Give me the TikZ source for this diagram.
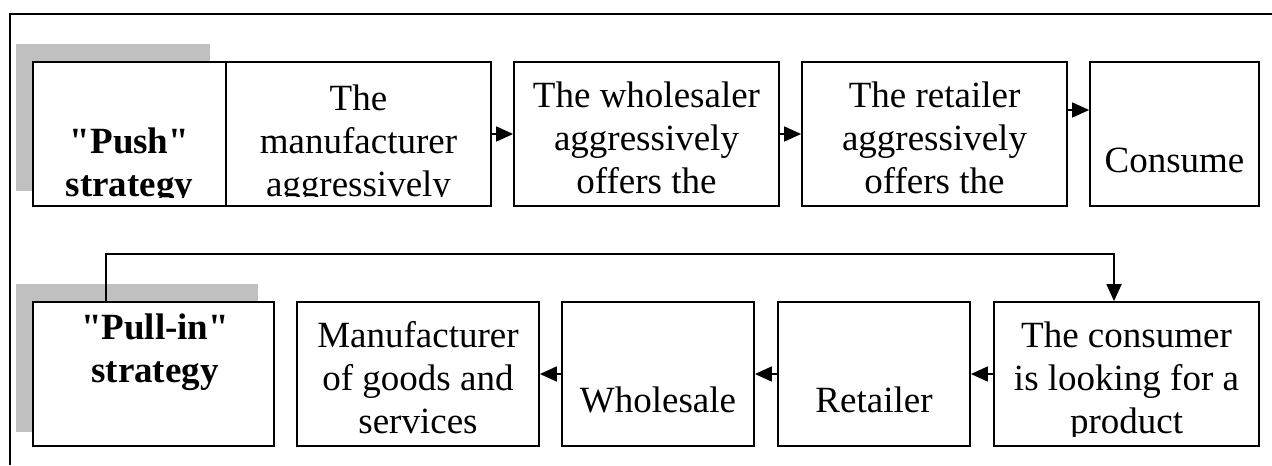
\documentclass[tikz,border=0pt]{standalone}
\usepackage{fontspec}
\setmainfont{Liberation Serif}[Ligatures=TeXOff]
\usetikzlibrary{arrows.meta,fit}
\definecolor{shadowc}{HTML}{C0C0C0}
\begin{document}
\begin{tikzpicture}[x=0.5pt,y=-0.5pt,
  box/.style={draw,line width=0.9pt,fill=white,inner sep=0pt},
  txt/.style={anchor=base,align=center,inner sep=0pt,font=\fontsize{18.5}{21.5}\selectfont},
  btxt/.style={txt,font=\fontsize{18.5}{21.5}\selectfont\bfseries},
  arr/.style={line width=0.9pt,-{Triangle[length=8.5pt,width=7.5pt]}},
  frame/.style={line width=1.1pt}
]
\useasboundingbox (0,0) rectangle (1272,465);
% outer frame
\coordinate (f1) at (10,465);
\coordinate (f2) at (10,14);
\coordinate (f3) at (1272,14);
\draw[frame] (f1) -- (f2) -- (f3);

% shadows
\fill[shadowc] (16,44) rectangle (210,191);
\fill[shadowc] (16,284) rectangle (258,432);

% top row boxes
\node[box,fit={(33,62) (226,206)}] (push) {};
\node[box,fit={(226,62) (491,206)}] (man) {};
\node[box,fit={(514,62) (779,206)}] (whs) {};
\node[box,fit={(802,62) (1067,206)}] (ret) {};
\node[box,fit={(1090,62) (1259,206)}] (con) {};

% bottom row boxes
\node[box,fit={(33,302) (274,446)}] (pull) {};
\node[box,fit={(297,302) (539,446)}] (bman) {};
\node[box,fit={(562,302) (754,446)}] (bwhs) {};
\node[box,fit={(778,302) (970,446)}] (bret) {};
\node[box,fit={(994,302) (1259,446)}] (bcon) {};

% top row texts (clipped at the box; anchor = baseline of last line)
\begin{scope}\clip (33,62) rectangle (226,197);
\node[btxt] (tpush) at (129.5,196) {"Push"\\strategy};\end{scope}
\begin{scope}\clip (226,62) rectangle (491,196);
\node[txt] (tman) at (358.5,196) {The\\manufacturer\\aggressively};\end{scope}
\begin{scope}\clip (514,62) rectangle (779,196);
\node[txt] (twhs) at (646.5,193) {The wholesaler\\aggressively\\offers the};\end{scope}
\begin{scope}\clip (802,62) rectangle (1067,196);
\node[txt] (tret) at (934.5,193) {The retailer\\aggressively\\offers the};\end{scope}
\node[txt] (tcon) at (1174.5,172) {Consume};

% bottom row texts
\node[btxt] (tpull) at (155,382) {"Pull-in"\\strategy};
\begin{scope}\clip (297,302) rectangle (539,436);
\node[txt] (tbman) at (418,433) {Manufacturer\\of goods and\\services};\end{scope}
\node[txt] (tbwhs) at (658,412) {Wholesale};
\node[txt] (tbret) at (874,412) {Retailer};
\begin{scope}\clip (994,302) rectangle (1259,436);
\node[txt] (tbcon) at (1126.5,433) {The consumer\\is looking for a\\product};\end{scope}

% top arrows
\coordinate (a3) at (0,110);
\draw[arr] (man.east) -- (whs.west);
\draw[arr] (whs.east) -- (ret.west);
\draw[arr] (ret.east |- a3) -- (con.west |- a3);

% bottom arrows
\draw[arr] (bcon.west) -- (bret.east);
\draw[arr] (bret.west) -- (bwhs.east);
\draw[arr] (bwhs.west) -- (bman.east);

% connector
\coordinate (c1) at (106,254);
\coordinate (c2) at (1114,254);
\draw[arr] (pull.north -| c1) -- (c1) -- (c2) -- (bcon.north -| c2);
\end{tikzpicture}
\end{document}
